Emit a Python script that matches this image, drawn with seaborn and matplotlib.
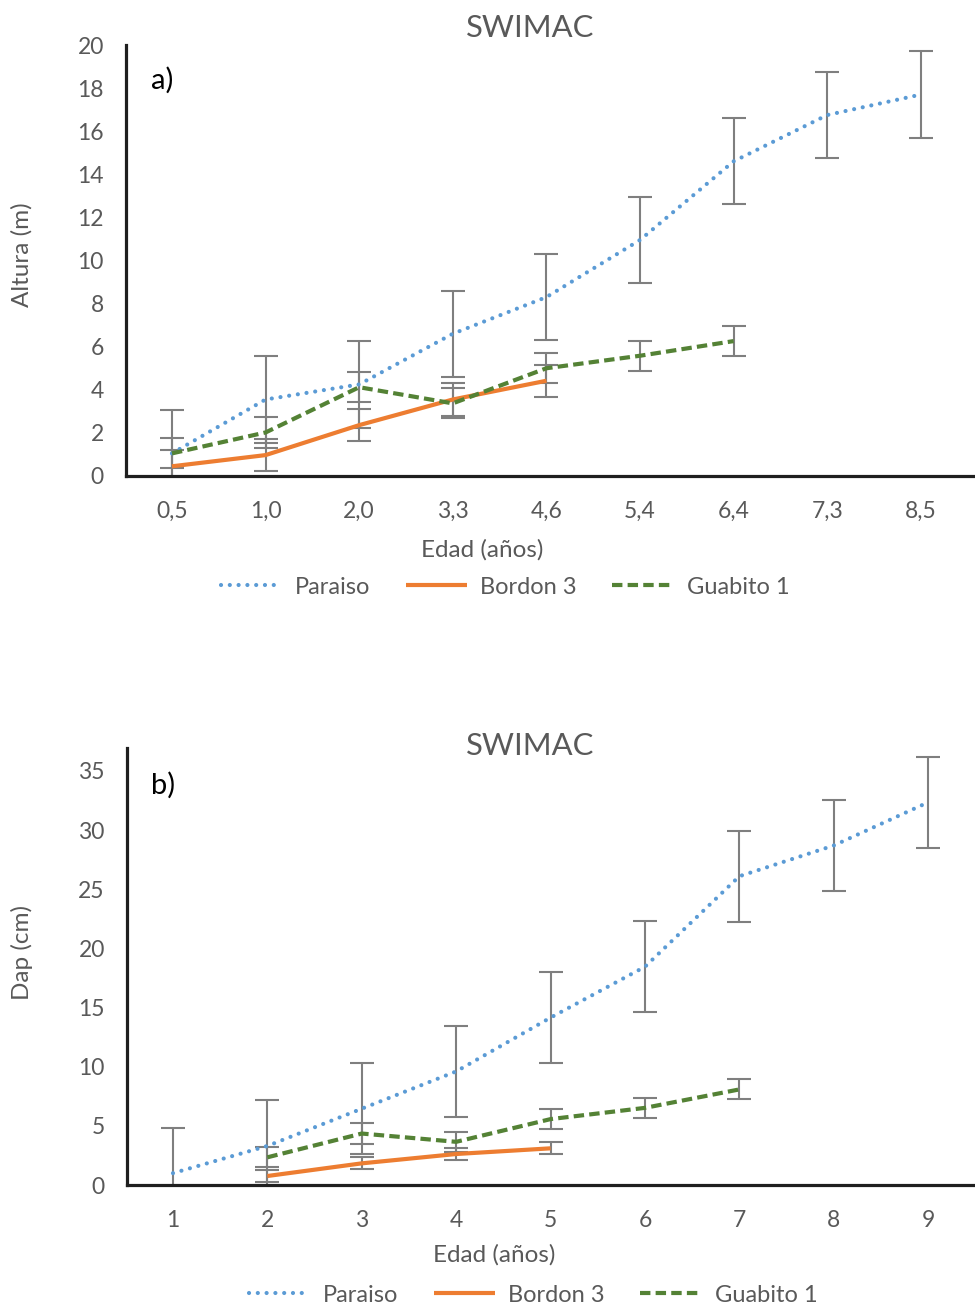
import numpy as np
import pandas as pd
import matplotlib
matplotlib.use("Agg")
import matplotlib.pyplot as plt
import seaborn as sns

# ---------------- data ----------------
edad_a = ["0,5", "1,0", "2,0", "3,3", "4,6", "5,4", "6,4", "7,3", "8,5"]
paraiso_a = [1.05, 3.55, 4.25, 6.6, 8.3, 10.95, 14.6, 16.75, 17.7]
bordon_a = [0.45, 0.97, 2.36, 3.55, 4.42]
guabito_a = [1.05, 2.02, 4.12, 3.37, 5.0, 5.58, 6.26]
err_paraiso_a = 2.0
err_bordon_a = 0.75
err_guabito_a = 0.7

edad_b = ["1", "2", "3", "4", "5", "6", "7", "8", "9"]
paraiso_b = [1.0, 3.3, 6.45, 9.6, 14.15, 18.45, 26.1, 28.7, 32.35]
bordon_b = [0.76, 1.83, 2.62, 3.1]          # ages 2..5
guabito_b = [2.34, 4.35, 3.65, 5.57, 6.52, 8.08]  # ages 2..7
err_paraiso_b = 3.85
err_bordon_b = 0.5
err_guabito_b = 0.85

series_names = ["Paraiso", "Bordon 3", "Guabito 1"]

# ---------------- style ----------------
sns.set_theme(style="white")
plt.rcParams["font.family"] = ["Lato", "DejaVu Sans"]

GRAY = "#595959"
C_BLUE = "#5B9BD5"
C_ORANGE = "#ED7D31"
C_GREEN = "#548235"
C_ERR = "#7F7F7F"

styles = {
    "Paraiso": dict(color=C_BLUE, linewidth=3.0, linestyle=(0, (0.01, 2.1)),
                    dash_capstyle="round"),
    "Bordon 3": dict(color=C_ORANGE, linewidth=3.0, linestyle="-",
                     solid_capstyle="butt"),
    "Guabito 1": dict(color=C_GREEN, linewidth=3.0, linestyle=(0, (2.5, 1.25)),
                      dash_capstyle="butt"),
}

W, H = 975, 1307
fig = plt.figure(figsize=(W / 100, H / 100), dpi=100)


def fx(px):
    return px / W


def fy(py):
    return 1 - py / H


def make_panel(rect, cats, start_idx, values, errs, xlim, ylim, yticks,
               ylabel, tag, tag_y, title_y, xlabel_x, xlabel_y, ylabel_x,
               ylabel_y, legend_y, legend_x):
    ax = fig.add_axes(rect)
    ax.set_facecolor("white")
    # error bars first (under lines)
    for name, vals, st, err in zip(series_names, values, start_idx, errs):
        xs = np.arange(st, st + len(vals))
        ax.errorbar(xs, vals, yerr=err, fmt="none", ecolor=C_ERR,
                    elinewidth=1.5, capsize=8.5, capthick=1.5, zorder=2)
    for name, vals, st in zip(series_names, values, start_idx):
        df = pd.DataFrame({"x": np.arange(st, st + len(vals)), "y": vals})
        sns.lineplot(data=df, x="x", y="y", ax=ax, label=name, zorder=3,
                     **styles[name])
    ax.set_xlim(*xlim)
    ax.set_ylim(*ylim)
    ax.set_xticks(np.arange(len(cats)))
    ax.set_xticklabels(cats)
    ax.set_yticks(yticks)
    ax.set_yticklabels([str(t) for t in yticks])
    ax.tick_params(axis="both", length=0, labelsize=16.5, labelcolor=GRAY)
    ax.tick_params(axis="x", pad=18)
    ax.tick_params(axis="y", pad=16)
    for s in ["top", "right"]:
        ax.spines[s].set_visible(False)
    for s in ["left", "bottom"]:
        ax.spines[s].set_color("#1F1F1F")
        ax.spines[s].set_linewidth(2.3)
    ax.grid(False)

    ax.set_xlabel("Edad (años)", fontsize=17.5, color=GRAY)
    ax.xaxis.set_label_coords(fx(xlabel_x), fy(xlabel_y),
                              transform=fig.transFigure)
    ax.xaxis.label.set_va("center")
    ax.set_ylabel(ylabel, fontsize=17.5, color=GRAY)
    ax.yaxis.set_label_coords(fx(ylabel_x), fy(ylabel_y),
                              transform=fig.transFigure)
    ax.yaxis.label.set_ha("center")
    ax.yaxis.label.set_va("center")

    fig.text(fx(530), fy(title_y), "SWIMAC", ha="center", va="center",
             fontsize=22.3, color=GRAY)
    fig.text(fx(151), fy(tag_y), tag, fontsize=21, color="black",
             ha="left", va="center")

    leg = ax.legend(loc="center", bbox_to_anchor=(fx(legend_x), fy(legend_y)),
                    bbox_transform=fig.transFigure, ncol=3, frameon=False,
                    fontsize=17, handlelength=2.6, handletextpad=0.55,
                    columnspacing=1.5, borderpad=0)
    for t in leg.get_texts():
        t.set_color(GRAY)
    return ax


# panel a
ax1 = make_panel(
    rect=[fx(126), fy(476), fx(975 - 126), (476 - 45) / H],
    cats=edad_a, start_idx=[0, 0, 0],
    values=[paraiso_a, bordon_a, guabito_a],
    errs=[err_paraiso_a, err_bordon_a, err_guabito_a],
    xlim=(-0.491, 8.579), ylim=(0, 20), yticks=list(range(0, 21, 2)),
    ylabel="Altura (m)", tag="a)", tag_y=80, title_y=28,
    xlabel_x=482, xlabel_y=550, ylabel_x=22, ylabel_y=255,
    legend_y=587, legend_x=505,
)

# panel b
ax2 = make_panel(
    rect=[fx(127), fy(1185), fx(975 - 127), (1185 - 748) / H],
    cats=edad_b, start_idx=[0, 1, 1],
    values=[paraiso_b, bordon_b, guabito_b],
    errs=[err_paraiso_b, err_bordon_b, err_guabito_b],
    xlim=(-0.487, 8.496), ylim=(0, 36.94), yticks=list(range(0, 36, 5)),
    ylabel="Dap (cm)", tag="b)", tag_y=785, title_y=746,
    xlabel_x=494, xlabel_y=1255, ylabel_x=22, ylabel_y=952,
    legend_y=1295, legend_x=533,
)

fig.savefig("out.png", dpi=100, facecolor="white")
